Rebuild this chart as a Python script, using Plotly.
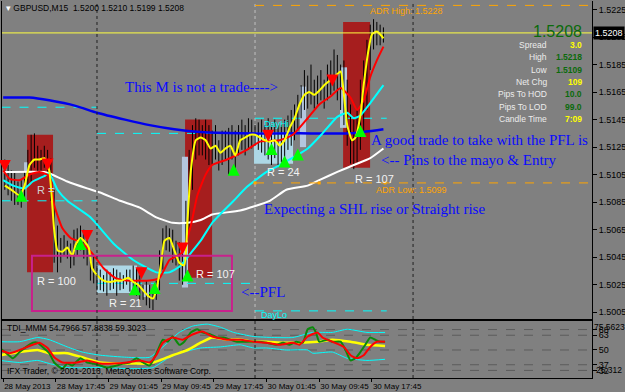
import plotly.graph_objects as go

# ---------------- data ----------------
# bar index: 0 = 29 May 2013 00:00, one unit = one 15-minute bar
bar_index = list(range(-56, 176, 2))
bar_high = [1.5116, 1.5112, 1.5108, 1.5107, 1.5100, 1.5101, 1.5107, 1.5123, 1.5134, 1.5135,
            1.5126, 1.5123, 1.5126, 1.5123, 1.5117, 1.5094, 1.5068, 1.5059, 1.5061, 1.5057,
            1.5055, 1.5065, 1.5066, 1.5068, 1.5065, 1.5063, 1.5050, 1.5046, 1.5039, 1.5036,
            1.5032, 1.5036, 1.5034, 1.5037, 1.5036, 1.5034, 1.5032, 1.5036, 1.5036, 1.5039,
            1.5037, 1.5032, 1.5025, 1.5028, 1.5025, 1.5021, 1.5028, 1.5050, 1.5066, 1.5068,
            1.5066, 1.5065, 1.5057, 1.5056, 1.5050, 1.5086, 1.5123, 1.5141, 1.5146, 1.5145,
            1.5141, 1.5145, 1.5141, 1.5137, 1.5141, 1.5130, 1.5137, 1.5137, 1.5139, 1.5141,
            1.5137, 1.5141, 1.5145, 1.5141, 1.5146, 1.5145, 1.5141, 1.5143, 1.5145, 1.5141,
            1.5146, 1.5141, 1.5145, 1.5141, 1.5141, 1.5145, 1.5148, 1.5152, 1.5156, 1.5163,
            1.5170, 1.5181, 1.5177, 1.5185, 1.5174, 1.5177, 1.5181, 1.5174, 1.5185, 1.5188,
            1.5196, 1.5192, 1.5185, 1.5188, 1.5174, 1.5156, 1.5145, 1.5152, 1.5174, 1.5188,
            1.5203, 1.5214, 1.5218, 1.5216, 1.5214, 1.5212]
bar_low = [1.5094, 1.5090, 1.5086, 1.5083, 1.5083, 1.5081, 1.5086, 1.5097, 1.5100, 1.5110,
           1.5107, 1.5108, 1.5110, 1.5105, 1.5086, 1.5041, 1.5034, 1.5041, 1.5046, 1.5044,
           1.5037, 1.5039, 1.5046, 1.5050, 1.5044, 1.5039, 1.5028, 1.5026, 1.5021, 1.5021,
           1.5020, 1.5017, 1.5021, 1.5022, 1.5017, 1.5021, 1.5022, 1.5025, 1.5020, 1.5021,
           1.5017, 1.5014, 1.5014, 1.5010, 1.5008, 1.5006, 1.5014, 1.5021, 1.5036, 1.5050,
           1.5049, 1.5041, 1.5039, 1.5028, 1.5025, 1.5028, 1.5065, 1.5094, 1.5116, 1.5119,
           1.5119, 1.5116, 1.5112, 1.5112, 1.5116, 1.5108, 1.5112, 1.5116, 1.5105, 1.5116,
           1.5108, 1.5119, 1.5123, 1.5119, 1.5123, 1.5124, 1.5126, 1.5123, 1.5121, 1.5119,
           1.5116, 1.5112, 1.5117, 1.5112, 1.5114, 1.5117, 1.5123, 1.5126, 1.5130, 1.5137,
           1.5146, 1.5152, 1.5153, 1.5156, 1.5153, 1.5156, 1.5159, 1.5153, 1.5159, 1.5163,
           1.5166, 1.5159, 1.5152, 1.5141, 1.5126, 1.5113, 1.5109, 1.5114, 1.5123, 1.5137,
           1.5152, 1.5181, 1.5196, 1.5199, 1.5199, 1.5201]

ma_yellow_x = [-56, -52, -47, -44, -41, -38, -35, -32, -29, -26, -24, -21, -18, -15, -13, -10, -8, -5, -3, 0,
               4, 8, 12, 15, 19, 22, 25, 28, 31, 34, 36, 39, 41, 44, 47, 50, 53, 55, 57, 60,
               63, 66, 69, 72, 75, 78, 81, 84, 87, 90, 93, 96, 99, 102, 105, 108, 111, 114, 117, 120,
               123, 126, 129, 132, 135, 138, 142, 145, 148, 150, 152, 155, 157, 160, 162, 165, 167, 170, 172, 174]
ma_yellow_y = [1.5097, 1.5094, 1.5090, 1.5097, 1.5112, 1.5116, 1.5116, 1.5117, 1.5108, 1.5065,
               1.5050, 1.5049, 1.5052, 1.5046, 1.5054, 1.5059, 1.5057, 1.5052, 1.5037, 1.5032,
               1.5028, 1.5027, 1.5028, 1.5028, 1.5030, 1.5027, 1.5025, 1.5021, 1.5017, 1.5015,
               1.5021, 1.5041, 1.5057, 1.5059, 1.5050, 1.5041, 1.5039, 1.5072, 1.5108, 1.5130,
               1.5132, 1.5130, 1.5124, 1.5126, 1.5121, 1.5124, 1.5126, 1.5119, 1.5130, 1.5132,
               1.5134, 1.5134, 1.5132, 1.5130, 1.5129, 1.5130, 1.5126, 1.5130, 1.5139, 1.5146,
               1.5156, 1.5163, 1.5165, 1.5163, 1.5166, 1.5170, 1.5174, 1.5177, 1.5180, 1.5163,
               1.5141, 1.5130, 1.5132, 1.5148, 1.5170, 1.5196, 1.5207, 1.5209, 1.5207, 1.5204]

ma_red_x = [-57, -53, -47, -41, -35, -29, -26, -21, -16, -10, -3, 4, 11, 18, 26, 32, 38, 44, 49, 52,
            57, 61, 66, 70, 79, 91, 99, 111, 119, 128, 135, 142, 148, 154, 158, 162, 166, 170, 174]
ma_red_y = [1.5108, 1.5102, 1.5101, 1.5105, 1.5107, 1.5104, 1.5083, 1.5066, 1.5059, 1.5056,
            1.5048, 1.5037, 1.5030, 1.5028, 1.5028, 1.5028, 1.5030, 1.5043, 1.5046, 1.5049,
            1.5068, 1.5090, 1.5105, 1.5112, 1.5116, 1.5123, 1.5129, 1.5130, 1.5134, 1.5146,
            1.5156, 1.5162, 1.5168, 1.5161, 1.5152, 1.5159, 1.5176, 1.5188, 1.5198]

ma_cyan_x = [-57, -51, -44, -39, -32, -29, -24, -18, -4, 10, 22, 36, 44, 50, 57, 63, 70, 83, 91, 103,
             111, 128, 137, 146, 152, 156, 160, 166, 174]
ma_cyan_y = [1.5101, 1.5097, 1.5095, 1.5100, 1.5104, 1.5106, 1.5094, 1.5086, 1.5074, 1.5055,
             1.5043, 1.5034, 1.5034, 1.5038, 1.5048, 1.5057, 1.5070, 1.5086, 1.5096, 1.5107,
             1.5112, 1.5124, 1.5135, 1.5147, 1.5150, 1.5146, 1.5148, 1.5157, 1.5170]

ma_white_x = [-57, -32, -29, -18, -6, 2, 14, 26, 36, 46, 55, 63, 70, 87, 105, 115, 128, 135, 146, 156, 166, 174]
ma_white_y = [1.5107, 1.5107, 1.5106, 1.5100, 1.5095, 1.5092, 1.5086, 1.5081, 1.5074, 1.5070, 1.5070,
              1.5072, 1.5076, 1.5079, 1.5086, 1.5094, 1.5097, 1.5101, 1.5107, 1.5112, 1.5117, 1.5124]

ma_blue_x = [-57, -41, -29, -13, 0, 17, 32, 47, 63, 87, 123, 154, 174]
ma_blue_y = [1.5161, 1.5161, 1.5159, 1.5155, 1.5150, 1.5145, 1.5141, 1.5138, 1.5136, 1.5135, 1.5135, 1.5135, 1.5138]

tdi_green_x = [-59, -55, -51, -47, -43, -39, -36, -33, -29, -26, -21, -18, -15, -10, -6, -2, 2, 6, 12, 16,
               20, 24, 28, 32, 34, 37, 40, 43, 46, 50, 53, 57, 61, 64, 69, 73, 77, 81, 85, 91,
               97, 103, 109, 113, 117, 121, 125, 128, 131, 133, 135, 140, 143, 148, 151, 154, 157, 160, 163, 166,
               169, 172, 175]
tdi_green_y = [51.8, 47.2, 42.7, 48.2, 52.7, 56.4, 56.4, 52.7, 47.2, 39.0, 33.5, 38.1, 36.3, 42.7, 39.0, 38.1, 36.3, 34.5, 36.3, 38.1,
               39.0, 42.7, 39.0, 36.3, 40.8, 50.0, 59.1, 57.3, 61.9, 54.6, 57.3, 65.5, 68.3, 65.5, 63.7, 61.0, 61.0, 59.1, 57.3, 57.3,
               57.3, 56.4, 54.6, 56.4, 54.6, 57.3, 56.4, 68.3, 70.1, 65.5, 57.3, 59.1, 57.3, 57.3, 50.0, 40.8, 42.7, 48.2, 54.6, 61.0,
               59.1, 57.3, 57.3]
tdi_red_x = [-59, -53, -47, -39, -35, -30, -26, -21, -12, -6, 2, 10, 18, 26, 32, 36, 40, 46, 52, 58,
             64, 70, 79, 87, 95, 103, 111, 119, 123, 128, 134, 137, 143, 150, 154, 158, 162, 166, 170, 175]
tdi_red_y = [50.0, 47.2, 50.0, 54.6, 56.4, 51.8, 43.6, 39.0, 39.0, 40.8, 38.1, 38.1, 39.0, 40.8, 39.0, 45.4, 56.4, 61.0, 59.1, 63.7,
             66.4, 61.9, 59.1, 59.1, 57.3, 56.4, 54.6, 56.4, 54.6, 61.9, 65.5, 61.0, 57.3, 52.7, 45.4, 42.7, 45.4, 52.7, 57.3, 57.3]
tdi_yellow_x = [-59, -47, -36, -29, -18, -9, 2, 12, 22, 32, 38, 46, 55, 63, 70, 79, 87, 95, 103, 113, 123, 134, 143, 154, 164, 175]
tdi_yellow_y = [45.4, 48.2, 50.0, 47.2, 47.2, 43.6, 39.0, 38.1, 38.1, 38.1, 40.8, 45.4, 50.0, 56.4, 61.0, 59.1, 59.1, 57.3, 57.3,
                56.4, 56.4, 57.3, 59.1, 57.3, 54.6, 53.6]
tdi_up_x = [-59, -47, -36, -29, -18, -9, 2, 18, 32, 40, 50, 58, 67, 75, 83, 95, 107, 119, 131, 143, 152, 164, 175]
tdi_up_y = [57.3, 57.3, 61.0, 59.1, 52.7, 48.2, 45.4, 43.6, 43.6, 52.7, 65.5, 71.0, 72.8, 70.1, 65.5, 61.9, 61.0, 61.0, 65.5,
            65.5, 68.3, 65.5, 65.5]
tdi_dn_x = [-59, -47, -36, -29, -18, 2, 22, 34, 43, 50, 63, 75, 87, 95, 103, 115, 128, 131, 143, 152, 164, 175]
tdi_dn_y = [40.8, 39.0, 40.8, 38.1, 34.5, 34.5, 33.5, 34.5, 42.7, 47.2, 51.8, 52.7, 54.6, 51.8, 51.8, 50.0, 50.0, 47.2, 48.2,
            42.7, 40.8, 41.8]
tdi_levels = [68, 63, 50, 37, 32]
tdi_min, tdi_max = 25.312, 75.5623

up_arrow_x = [-46, -10, 23, 35, 55, 83, 106, 114, 122, 160]
up_arrow_y = [1.5094, 1.5059, 1.5026, 1.5027, 1.5036, 1.5113, 1.5128, 1.5119, 1.5124, 1.5141]
down_arrow_x = [-56, -30, -6, 27, 52, 104, 143]
down_arrow_y = [1.5107, 1.5108, 1.5056, 1.5029, 1.5047, 1.5129, 1.5169]

red_box_x0 = [-42.5, 53.5, 149.5]
red_box_x1 = [-26.7, 69.9, 165.9]
red_box_lo = [1.5034, 1.5030, 1.5110]
red_box_hi = [1.5134, 1.5145, 1.5216]

blue_box_x0 = [-44.3, 0, 28, 51.6, 95.4, 123.3, 147.6]
blue_box_x1 = [-41.9, 24.3, 31.6, 55.3, 119.1, 127.0, 151.9]
blue_box_lo = [1.5107, 1.5019, 1.5016, 1.5023, 1.5113, 1.5125, 1.5139]
blue_box_hi = [1.5114, 1.5039, 1.5025, 1.5118, 1.5136, 1.5169, 1.5183]
blue_box_col = ["#b4c6de", "#add8e6", "#b4c6de", "#b4c6de", "#add8e6", "#b4c6de", "#b4c6de"]

pfl_box = [-39.5, 82.0, 1.5006, 1.5046]

day_start = [-58, 0, 96]
day_end = [0, 96, 176]
prev_day_high = [1.5154, 1.5135, 1.5146]
prev_day_low = [1.5086, 1.5026, 1.5006]
day_separators = [0, 192]
light_separators = [96]

adr_high, adr_low = 1.5228, 1.5099
bid_price = 1.5208

price_ticks = [1.5005, 1.5025, 1.5045, 1.5065, 1.5085, 1.5105, 1.5125, 1.5145, 1.5165, 1.5185, 1.5205, 1.5225]
time_tick_pos = [-57, -25, 7, 39, 71, 103, 135, 167]
time_tick_text = ["28 May 2013", "28 May 17:45", "29 May 01:45", "29 May 09:45", "29 May 17:45",
                  "30 May 01:45", "30 May 09:45", "30 May 17:45"]

info_labels = ["Spread", "High", "Low", "Net Chg", "Pips To HOD", "Pips To LOD", "Candle Time"]
info_values = ["3.0", "1.5218", "1.5109", "109", "10.0", "99.0", "7:09"]
info_colors = ["#ffff00", "#0b6b0b", "#0b6b0b", "#ffff00", "#0b6b0b", "#0b6b0b", "#ffff00"]

X_MIN, X_MAX = -57.7, 300.7
P_MIN, P_MAX = 1.50001, 1.52312

SANS = "Liberation Sans"
SERIF = "Liberation Serif"
GRAY = "#808080"

fig = go.Figure()

# price bars
bx, by = [], []
for i, h, l in zip(bar_index, bar_high, bar_low):
    bx += [i, i, None]
    by += [l, h, None]
fig.add_trace(go.Scatter(x=bx, y=by, mode="lines", line=dict(color="black", width=1),
                         hoverinfo="skip", xaxis="x", yaxis="y"))

for xs, ys, col, w in [(ma_blue_x, ma_blue_y, "#0000ee", 2.5),
                       (ma_white_x, ma_white_y, "#ffffff", 2),
                       (ma_cyan_x, ma_cyan_y, "#00ffff", 2),
                       (ma_red_x, ma_red_y, "#ff0000", 2),
                       (ma_yellow_x, ma_yellow_y, "#ffff00", 2)]:
    fig.add_trace(go.Scatter(x=xs, y=ys, mode="lines", line=dict(color=col, width=w, shape="spline", smoothing=0.5),
                             xaxis="x", yaxis="y"))

# ADR low markers
fig.add_trace(go.Scatter(x=[96, 135, 175], y=[adr_low] * 3, mode="markers",
                         marker=dict(symbol="square", size=3, color="#ffa500"), xaxis="x", yaxis="y"))

# TDI
for xs, ys, col, w in [(tdi_up_x, tdi_up_y, "#00ffff", 1),
                       (tdi_dn_x, tdi_dn_y, "#00ffff", 1),
                       (tdi_yellow_x, tdi_yellow_y, "#ffff00", 2.5),
                       (tdi_green_x, tdi_green_y, "#0a8a0a", 2),
                       (tdi_red_x, tdi_red_y, "#ff0000", 2)]:
    fig.add_trace(go.Scatter(x=xs, y=ys, mode="lines", line=dict(color=col, width=w, shape="spline", smoothing=0.5),
                             xaxis="x2", yaxis="y2"))

shapes = []
for x0, x1, lo, hi in zip(red_box_x0, red_box_x1, red_box_lo, red_box_hi):
    shapes.append(dict(type="rect", xref="x", yref="y", x0=x0, x1=x1, y0=lo, y1=hi,
                       fillcolor="#a61e1e", line=dict(width=0), layer="below"))
for x0, x1, lo, hi, c in zip(blue_box_x0, blue_box_x1, blue_box_lo, blue_box_hi, blue_box_col):
    shapes.append(dict(type="rect", xref="x", yref="y", x0=x0, x1=x1, y0=lo, y1=hi,
                       fillcolor=c, line=dict(width=0), layer="below"))
shapes.append(dict(type="rect", xref="x", yref="y", x0=pfl_box[0], x1=pfl_box[1], y0=pfl_box[2], y1=pfl_box[3],
                   line=dict(color="#c8218c", width=2), fillcolor="rgba(0,0,0,0)"))
for s, e, h, l in zip(day_start, day_end, prev_day_high, prev_day_low):
    for v in (h, l):
        shapes.append(dict(type="line", xref="x", yref="y", x0=s, x1=e, y0=v, y1=v,
                           line=dict(color="#00ffff", width=1, dash="dash"), layer="below"))
for v in (adr_high, adr_low):
    shapes.append(dict(type="line", xref="x", yref="y", x0=96, x1=X_MAX, y0=v, y1=v,
                       line=dict(color="#ffa500", width=1, dash="dash")))
shapes.append(dict(type="line", xref="x domain", yref="y", x0=0, x1=1, y0=bid_price, y1=bid_price,
                   line=dict(color="#ffff40", width=1)))
for d in day_separators:
    for yr in ("y domain", "y2 domain"):
        shapes.append(dict(type="line", xref="x", yref=yr, x0=d, x1=d, y0=0, y1=1,
                           line=dict(color="#202020", width=1, dash="dot")))
for d in light_separators:
    shapes.append(dict(type="line", xref="x", yref="y domain", x0=d, x1=d, y0=0, y1=1,
                       line=dict(color="#c0c0c0", width=1, dash="dot"), layer="below"))
    shapes.append(dict(type="line", xref="x", yref="y2 domain", x0=d, x1=d, y0=0, y1=1,
                       line=dict(color="#202020", width=1, dash="dot")))
for lv in tdi_levels:
    shapes.append(dict(type="line", xref="x2 domain", yref="y2", x0=0, x1=1, y0=lv, y1=lv,
                       line=dict(color="#5c5c5c", width=1, dash="dash"), layer="below"))

ann = []
for x, y in zip(up_arrow_x, up_arrow_y):
    ann.append(dict(x=x, y=y, xref="x", yref="y", ax=0, ay=12, text="", showarrow=True,
                    arrowcolor="#00ff00", arrowwidth=3, arrowhead=2, arrowsize=0.8))
for x, y in zip(down_arrow_x, down_arrow_y):
    ann.append(dict(x=x, y=y, xref="x", yref="y", ax=0, ay=-12, text="", showarrow=True,
                    arrowcolor="#ff0000", arrowwidth=3, arrowhead=2, arrowsize=0.8))


def txt(x, y, t, color, size, family=SANS, xanchor="left", xref="x", yref="y", **kw):
    d = dict(x=x, y=y, xref=xref, yref=yref, text=t, showarrow=False, xanchor=xanchor, yanchor="middle",
             font=dict(family=family, size=size, color=color), borderpad=0)
    d.update(kw)
    ann.append(d)


# R labels
txt(-37, 1.5028, "R = 100", "#f2f2f2", 11)
txt(6.7, 1.5012, "R = 21", "#f2f2f2", 11)
txt(59.5, 1.5033, "R = 107", "#f2f2f2", 11)
txt(102.7, 1.5107, "R = 24", "#f2f2f2", 11)
txt(156, 1.5102, "R = 107", "#f2f2f2", 11)
txt(-37, 1.5094, "R =", "#d0d0d0", 11)

# blue comments
txt(16.4, 1.5169, "This M is not a trade----&gt;", "#0a0aff", 15, SERIF)
txt(165.9, 1.5130, "A good trade to take with the PFL is", "#0a0aff", 15, SERIF)
txt(171.9, 1.5116, "&lt;-- Pins to the mayo &amp; Entry", "#0a0aff", 15, SERIF)
txt(100.9, 1.5080, "Expecting a SHL rise or Straight rise", "#0a0aff", 15, SERIF)
txt(86.9, 1.5020, "&lt;--PFL", "#0a0aff", 15, SERIF)

# ADR and day labels
txt(165, 1.5224, "ADR High: 1.5228", "#ffa500", 9)
txt(169, 1.5094, "ADR Low: 1.5099", "#ffa500", 9)
txt(101, 1.5142, "DayHi", "#00ffff", 9)
txt(99, 1.5003, "DayLo", "#00ffff", 9)

# header texts
txt(0, 1, "<span style='color:white'>\u25be</span> GBPUSD,M15\u00a0\u00a01.5200 1.5210 1.5199 1.5208", "black", 8.5,
    xref="paper", yref="paper", xshift=3, yshift=-7)
txt(0, 1, "TDI_MMM 54.7966 57.8838 59.3023", "black", 8.5, xref="paper", yref="y2 domain", xshift=4, yshift=-7)
txt(0, 0, "IFX Trader, \u00a9 2001-2013, MetaQuotes Software Corp.", "black", 8.5, xref="paper", yref="y2 domain",
    xshift=4, yshift=7)

# info panel
txt(0.9847, 0.9204, "1.5208", "#0b6b0b", 16, xanchor="right", xref="paper", yref="paper")
info_y = [0.8833, 0.8515, 0.8170, 0.7851, 0.7533, 0.7188, 0.6870]
for yy, lab, val, col in zip(info_y, info_labels, info_values, info_colors):
    txt(0.9254, yy, lab, "#ececec", 8.5, xanchor="right", xref="paper", yref="paper")
    txt(0.9847, yy, "<b>" + val + "</b>", col, 8.5, xanchor="right", xref="paper", yref="paper")

# price label box
ann.append(dict(x=1, y=bid_price, xref="paper", yref="y", text="1.5208", showarrow=False, xanchor="left",
                yanchor="middle", xshift=1, bgcolor="black", borderpad=1,
                font=dict(family=SANS, size=9, color="white")))
# TDI scale extremes
ann.append(dict(x=1, y=tdi_max, xref="paper", yref="y2", text="75.5623", showarrow=False, xanchor="left",
                yanchor="top", xshift=1, borderpad=0, font=dict(family=SANS, size=8.5, color="black")))
ann.append(dict(x=1, y=tdi_min, xref="paper", yref="y2", text="25.312", showarrow=False, xanchor="left",
                yanchor="bottom", xshift=3, yshift=2, borderpad=0, font=dict(family=SANS, size=8.5, color="black")))

tickfont = dict(family=SANS, size=9, color="black")
fig.update_layout(
    width=625, height=392, margin=dict(l=2, r=33, t=1, b=14, autoexpand=False),
    paper_bgcolor=GRAY, plot_bgcolor=GRAY, showlegend=False,
    shapes=shapes, annotations=ann,
    xaxis=dict(domain=[0, 1], range=[X_MIN, X_MAX], anchor="y", showticklabels=False, ticks="",
               showgrid=False, zeroline=False, showline=True, linecolor="black"),
    yaxis=dict(domain=[0.1565, 1], range=[P_MIN, P_MAX], side="right", tickvals=price_ticks,
               ticktext=[f"{v:.4f}" for v in price_ticks], ticks="outside", ticklen=4, tickcolor="black",
               showline=True, linecolor="black", mirror=True, showgrid=False, zeroline=False, tickfont=tickfont,
               automargin=False),
    xaxis2=dict(domain=[0, 1], range=[X_MIN, X_MAX], anchor="y2", tickvals=time_tick_pos, ticktext=time_tick_text,
                ticks="outside", ticklen=3, tickcolor="black", ticklabelposition="outside right", tickangle=0,
                showline=True, mirror=True, linecolor="black", showgrid=False, zeroline=False, automargin=False,
                tickfont=dict(family=SANS, size=8, color="black")),
    yaxis2=dict(domain=[0, 0.1512], range=[tdi_min, tdi_max], side="right", tickvals=tdi_levels,
                ticktext=[str(v) for v in tdi_levels], ticks="outside", ticklen=4, tickcolor="black",
                showline=True, linecolor="black", mirror=True, showgrid=False, zeroline=False, tickfont=tickfont,
                automargin=False),
)

fig.write_html("out.html")
